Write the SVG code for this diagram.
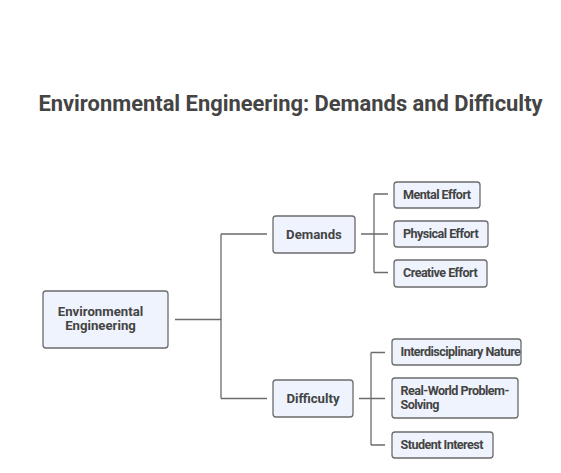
<svg xmlns="http://www.w3.org/2000/svg" width="561" height="473" viewBox="0 0 561 473">
<style>
.box{fill:#eef3fd;stroke:#6b6b6b;stroke-width:1.3}
.t{font-family:Roboto,"Liberation Sans",sans-serif;font-weight:bold;fill:#444444;font-size:12.6px;letter-spacing:-0.55px}
.m{font-family:Roboto,"Liberation Sans",sans-serif;font-weight:bold;fill:#444444;font-size:13.2px}
.c{fill:none;stroke:#6b6b6b;stroke-width:1.3}
</style>
<rect width="561" height="473" fill="#ffffff"/>
<text x="290.5" y="111" text-anchor="middle" style="font-family:Roboto,'Liberation Sans',sans-serif;font-weight:bold;font-size:21.9px;fill:#444444">Environmental Engineering: Demands and Difficulty</text>
<g id="connectors">
<path class="c" d="M175 319.5H221M221 234V398.5M221 234H267M221 398.5H267"/>
<path class="c" d="M361 234H388M374 194V272.5M374 194H388M374 272.5H388"/>
<path class="c" d="M359 398.5H385M371 352.5V445M371 352.5H385M371 445H385"/>
</g>
<g id="root"><rect class="box" x="43" y="291" width="125" height="57" rx="3"/>
<text class="m" x="100.5" y="315.5" text-anchor="middle">Environmental</text>
<text class="m" x="100.5" y="330" text-anchor="middle">Engineering</text></g>
<g id="demands"><rect class="box" x="273" y="216" width="82" height="37" rx="3"/>
<text class="m" x="314" y="239" text-anchor="middle">Demands</text></g>
<g id="mental"><rect class="box" x="394" y="182" width="86" height="26" rx="3"/>
<text class="t" x="403" y="198.5">Mental Effort</text></g>
<g id="physical"><rect class="box" x="394" y="221" width="94" height="26" rx="3"/>
<text class="t" x="403" y="237.5">Physical Effort</text></g>
<g id="creative"><rect class="box" x="394" y="260" width="93" height="27" rx="3"/>
<text class="t" x="403" y="277">Creative Effort</text></g>
<g id="difficulty"><rect class="box" x="273" y="380" width="80" height="37" rx="3"/>
<text class="m" x="313" y="403" text-anchor="middle">Difficulty</text></g>
<g id="interdisciplinary"><rect class="box" x="392" y="339" width="129" height="26" rx="3"/>
<text class="t" x="400.5" y="356">Interdisciplinary Nature</text></g>
<g id="realworld"><rect class="box" x="392" y="378" width="126" height="40" rx="3"/>
<text class="t" x="400.5" y="394.5">Real-World Problem-</text>
<text class="t" x="400.5" y="408.5">Solving</text></g>
<g id="student"><rect class="box" x="392" y="432" width="101" height="26" rx="3"/>
<text class="t" x="400.5" y="448.5">Student Interest</text></g>
</svg>
